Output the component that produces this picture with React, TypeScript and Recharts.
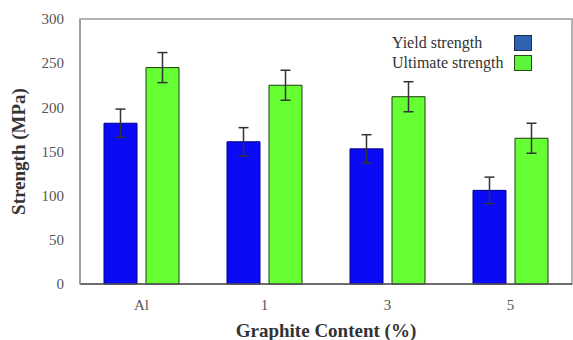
import React from 'react';
import { BarChart, Bar, XAxis, YAxis, ErrorBar, ReferenceArea } from 'recharts';

const categories = ['Al', '1', '3', '5'];
const yieldStrength = [182, 161, 153, 106];
const yieldError = [16, 16, 16, 15];
const ultimateStrength = [245, 225, 212, 165];
const ultimateError = [17, 17, 17, 17];
const yTicks = [0, 50, 100, 150, 200, 250, 300];

const data = categories.map((c, i) => ({
  name: c,
  yieldS: yieldStrength[i],
  yieldE: yieldError[i],
  ult: ultimateStrength[i],
  ultE: ultimateError[i],
}));

const FONT = '"Liberation Serif", "Times New Roman", serif';

const legendItems = [
  { label: 'Yield strength', fill: '#2f62b0', stroke: '#1b2f55' },
  { label: 'Ultimate strength', fill: '#5cf53b', stroke: '#2a4a1a' },
];

const LegendBox = () => (
  <div
    style={{
      position: 'absolute',
      left: 392,
      top: 33,
      fontFamily: FONT,
      fontSize: 16,
      color: '#333',
      lineHeight: '20px',
    }}
  >
    {legendItems.map((it) => (
      <div key={it.label} style={{ display: 'flex', alignItems: 'center', height: 20 }}>
        <span style={{ width: 122, whiteSpace: 'nowrap' }}>{it.label}</span>
        <span
          style={{
            display: 'inline-block',
            width: 16,
            height: 14,
            background: it.fill,
            border: `1px solid ${it.stroke}`,
          }}
        />
      </div>
    ))}
  </div>
);

export default function App() {
  return (
    <div style={{ position: 'absolute', left: 0, top: 0, width: 573, height: 340, background: '#fff' }}>
      <BarChart
        width={573}
        height={340}
        data={data}
        margin={{ top: 19, right: 1, left: 0, bottom: 0 }}
        barSize={33}
        barGap={9}
      >
        <ReferenceArea
          y1={0}
          y2={300}
          fill="none"
          stroke="#999"
          strokeWidth={1.5}
          ifOverflow="visible"
        />
        <XAxis
          dataKey="name"
          height={56}
          tickLine={false}
          tickSize={0}
          tickMargin={15}
          axisLine={{ stroke: '#555', strokeWidth: 1.5 }}
          tick={{ fontSize: 15, fill: '#555', fontFamily: FONT }}
          label={{
            value: 'Graphite Content (%)',
            position: 'insideBottom',
            offset: 3,
            fontFamily: FONT,
            fontSize: 19,
            fontWeight: 'bold',
            fill: '#333',
            style: { fontSize: 19, fontWeight: 'bold', fill: '#333', fontFamily: FONT },
          }}
        />
        <YAxis
          width={80}
          domain={[0, 300]}
          ticks={yTicks}
          tickLine={false}
          tickSize={0}
          tickMargin={16}
          axisLine={{ stroke: '#999', strokeWidth: 1.5 }}
          tick={{ fontSize: 15, fill: '#555', fontFamily: FONT }}
          label={{
            value: 'Strength (MPa)',
            angle: -90,
            position: 'insideLeft',
            offset: 18,
            fontFamily: FONT,
            style: { fontSize: 19, fontWeight: 'bold', fill: '#333', fontFamily: FONT, textAnchor: 'middle' },
          }}
        />
        <Bar dataKey="yieldS" name="Yield strength" fill="#0a0af5" stroke="#00008a" strokeWidth={1} isAnimationActive={false}>
          <ErrorBar dataKey="yieldE" width={5} stroke="#333" strokeWidth={1.5} direction="y" />
        </Bar>
        <Bar dataKey="ult" name="Ultimate strength" fill="#66ff33" stroke="#1d3a0e" strokeWidth={1} isAnimationActive={false}>
          <ErrorBar dataKey="ultE" width={5} stroke="#333" strokeWidth={1.5} direction="y" />
        </Bar>
      </BarChart>
      <LegendBox />
    </div>
  );
}
